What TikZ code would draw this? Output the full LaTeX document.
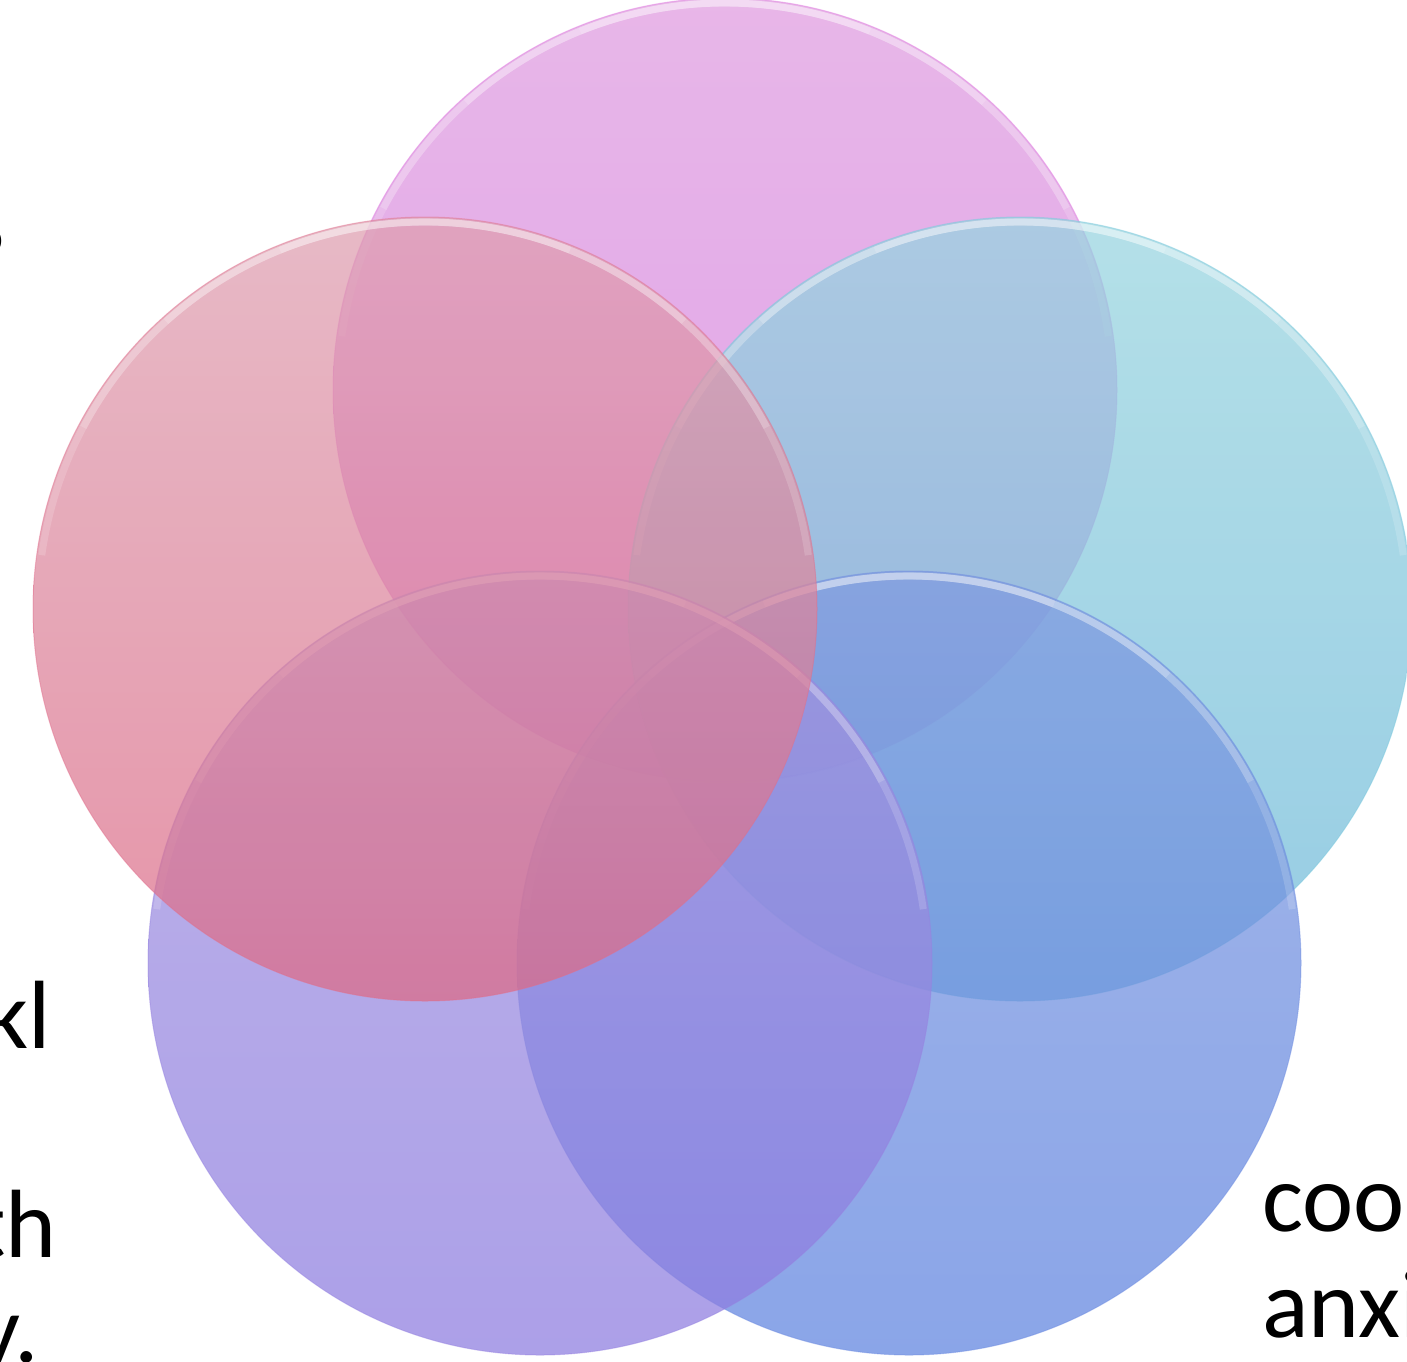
\documentclass[tikz,border=0pt]{standalone}
\usepackage{fontspec}
\setmainfont{Carlito}
\definecolor{topA}{RGB}{223,154,223}\definecolor{topB}{RGB}{209,123,223}\definecolor{topE}{RGB}{224,120,224}
\definecolor{leftA}{RGB}{222,158,176}\definecolor{leftB}{RGB}{220,106,134}\definecolor{leftE}{RGB}{225,110,140}
\definecolor{rightA}{RGB}{151,212,223}\definecolor{rightB}{RGB}{109,184,217}\definecolor{rightE}{RGB}{120,200,220}
\definecolor{blA}{RGB}{162,148,223}\definecolor{blB}{RGB}{140,123,223}\definecolor{blE}{RGB}{150,130,225}
\definecolor{brA}{RGB}{127,154,223}\definecolor{brB}{RGB}{93,130,223}\definecolor{brE}{RGB}{110,140,225}
\begin{document}
\begin{tikzpicture}[x=1pt,y=1pt,
  venn/.style={circle, minimum size=784pt, inner sep=0pt, fill opacity=0.72, draw opacity=0.45, line width=1pt},
  bevel/.style={white, line width=7pt, opacity=0.16},
  lbl/.style={inner sep=0pt, font=\fontsize{97}{107}\selectfont}]
\useasboundingbox (0,0) rectangle (1407,-1361);
\newcommand\vennbevel[1]{%
  \foreach \a in {8,28,48,68}{%
    \draw[bevel] (#1.center) ++(180-\a:387) arc[start angle=180-\a,end angle=\a,radius=387];}}
\node[venn, top color=topA, bottom color=topB, draw=topE] (c1) at (725,-390) {};
\vennbevel{c1}
\node[venn, top color=rightA, bottom color=rightB, draw=rightE] (c2) at (1020,-609) {};
\vennbevel{c2}
\node[venn, top color=brA, bottom color=brB, draw=brE] (c3) at (909,-963) {};
\vennbevel{c3}
\node[venn, top color=blA, bottom color=blB, draw=blE] (c4) at (540,-963) {};
\vennbevel{c4}
\node[venn, top color=leftA, bottom color=leftB, draw=leftE] (c5) at (425,-609) {};
\vennbevel{c5}
% text fragments
\node[lbl, anchor=base east] (q) at (8,-292) {?};
\node[lbl, anchor=base east] (kl) at (51,-1048) {kl};
\node[lbl, anchor=base east] (th) at (57,-1257) {th};
\node[lbl, anchor=base east] (yy) at (39,-1362) {y.};
\node[lbl, anchor=base west] (coo) at (1262,-1231) {coo};
\node[lbl, anchor=base west] (anxi) at (1262,-1337) {anxi};
\end{tikzpicture}
\end{document}
